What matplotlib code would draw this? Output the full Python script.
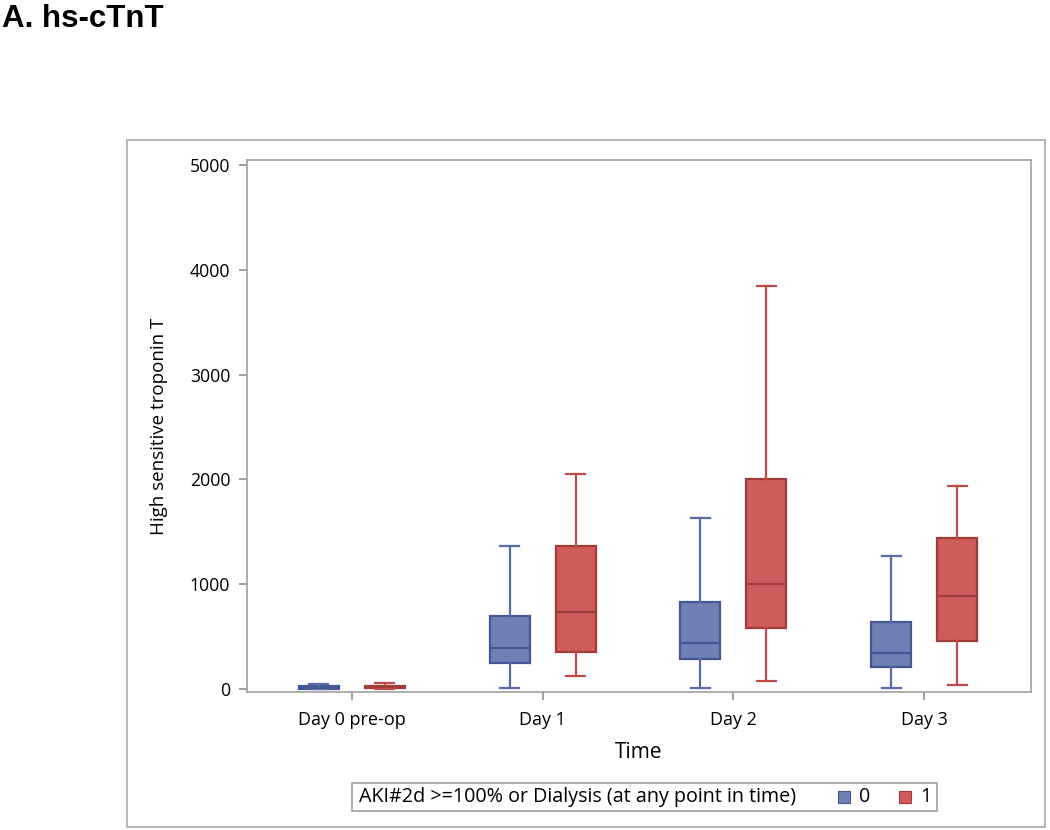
import matplotlib
matplotlib.use("Agg")
import matplotlib.pyplot as plt
from matplotlib.patches import Rectangle

# ---- data ----
categories = ["Day 0 pre-op", "Day 1", "Day 2", "Day 3"]
groups = ["0", "1"]
# group 0 (blue)
g0_low = [2, 8, 5, 8]
g0_q1 = [3, 245, 286, 207]
g0_med = [12, 394, 442, 346]
g0_q3 = [25, 700, 833, 636]
g0_high = [50, 1368, 1629, 1269]
# group 1 (red)
g1_low = [2, 124, 73, 38]
g1_q1 = [5, 350, 585, 458]
g1_med = [15, 738, 1002, 890]
g1_q3 = [32, 1368, 2004, 1438]
g1_high = [62, 2050, 3849, 1937]
yticks = [0, 1000, 2000, 3000, 4000, 5000]

fill_cols = ["#6F7EB3", "#D05B5B"]
edge_cols = ["#445694", "#A23A3A"]
whisk_cols = ["#5A6BA8", "#C04A4A"]

plt.rcParams["font.family"] = ["Open Sans", "DejaVu Sans"]

W, H = 1050, 830
fig = plt.figure(figsize=(W / 100, H / 100), dpi=100)

# outer frame
fig.patches.append(Rectangle((127 / W, 1 - 827 / H), (1045 - 127) / W, (827 - 140) / H,
                             transform=fig.transFigure, fill=False, edgecolor="#A8A8A8",
                             linewidth=1.2))

ax = fig.add_axes([247 / W, 1 - 692 / H, (1031 - 247) / W, (692 - 160) / H])

def stats_for(low, q1, med, q3, high):
    out = []
    for i in range(len(categories)):
        out.append(dict(whislo=low[i], q1=q1[i], med=med[i], q3=q3[i], whishi=high[i], fliers=[]))
    return out

series = [stats_for(g0_low, g0_q1, g0_med, g0_q3, g0_high),
          stats_for(g1_low, g1_q1, g1_med, g1_q3, g1_high)]
offsets = [-0.173, 0.173]
bw = 0.21
for gi in range(2):
    pos = [i + offsets[gi] for i in range(len(categories))]
    ec = edge_cols[gi]
    wc = whisk_cols[gi]
    ax.bxp(series[gi], positions=pos, widths=bw, patch_artist=True, showfliers=False,
           manage_ticks=False,
           boxprops=dict(facecolor=fill_cols[gi], edgecolor=ec, linewidth=1.6),
           medianprops=dict(color=ec, linewidth=1.6),
           whiskerprops=dict(color=wc, linewidth=1.6),
           capprops=dict(color=wc, linewidth=1.6),
           capwidths=bw * 0.48)

ax.set_xlim(-0.549, 3.56)
ax.set_ylim(-28.6, 5048)
ax.set_xticks(range(len(categories)))
ax.set_xticklabels(categories, fontsize=13)
ax.set_yticks(yticks)
ax.set_yticklabels([str(v) for v in yticks], fontsize=12.7)
for s in ax.spines.values():
    s.set_color("#A0A0A0")
    s.set_linewidth(1.2)
ax.tick_params(axis="both", colors="#909090", length=6, width=1.2,
               labelcolor="black", pad=6)
ax.tick_params(axis="x", pad=8)
ax.set_xlabel("Time", fontsize=15, labelpad=9)
ax.set_ylabel("High sensitive troponin T", fontsize=13.5, labelpad=16)

# title
fig.text(2 / W, 1 - 27 / H, "A. hs-cTnT", fontsize=22.5, fontweight="bold",
         family=["Liberation Sans", "DejaVu Sans"], ha="left", va="baseline")

# legend
fig.patches.append(Rectangle((352 / W, 1 - 811 / H), (937 - 352) / W, (811 - 783) / H,
                             transform=fig.transFigure, fill=False, edgecolor="#A0A0A0",
                             linewidth=1.2))
ly = 1 - 797 / H
fig.text(359 / W, ly, "AKI#2d >=100% or Dialysis (at any point in time)", fontsize=14.2,
         ha="left", va="center")
sq = 12
for gi, (xs, xt) in enumerate([(838, 859), (899, 920)]):
    fig.patches.append(Rectangle((xs / W, 1 - (797 + sq / 2) / H), sq / W, sq / H,
                                 transform=fig.transFigure, facecolor=fill_cols[gi],
                                 edgecolor=edge_cols[gi], linewidth=0.8))
    fig.text(xt / W, ly, groups[gi], fontsize=14.2, ha="left", va="center")

fig.savefig("out.png", dpi=100)
